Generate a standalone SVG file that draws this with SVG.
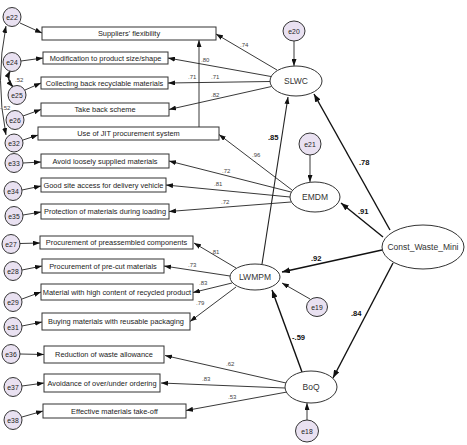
<svg xmlns="http://www.w3.org/2000/svg" width="467" height="445" viewBox="0 0 467 445">
<defs>
<marker id="ah" viewBox="0 0 7 5" refX="7" refY="2.5" markerWidth="7" markerHeight="5" markerUnits="userSpaceOnUse" orient="auto-start-reverse"><path d="M0,0 L7,2.5 L0,5 z" fill="#111"/></marker>
<marker id="ahb" viewBox="0 0 8 6" refX="8" refY="3" markerWidth="8" markerHeight="6" markerUnits="userSpaceOnUse" orient="auto-start-reverse"><path d="M0,0 L8,3 L0,6 z" fill="#111"/></marker>
</defs>
<style>
.box{fill:#fff;stroke:#333;stroke-width:1}
.bt{font-family:"Liberation Sans",Arial,sans-serif;font-size:7.4px;fill:#222;text-anchor:middle;dominant-baseline:central}
.err{fill:#e9e1f1;stroke:#333;stroke-width:1}
.et{font-family:"Liberation Sans",Arial,sans-serif;font-size:6.8px;fill:#222;text-anchor:middle;dominant-baseline:central}
.lat{fill:#fff;stroke:#333;stroke-width:1}
.lt{font-family:"Liberation Sans",Arial,sans-serif;font-size:8.5px;fill:#333;text-anchor:middle;dominant-baseline:central}
.c{fill:none;stroke:#222;stroke-width:0.9;marker-end:url(#ah)}
.cb{fill:none;stroke:#111;stroke-width:1.4;marker-end:url(#ahb)}
.cv{fill:none;stroke:#222;stroke-width:0.9;marker-start:url(#ah);marker-end:url(#ah)}
.w{font-family:"Liberation Sans",Arial,sans-serif;font-size:6px;fill:#444}
.wb{font-family:"Liberation Sans",Arial,sans-serif;font-size:7.6px;font-weight:bold;fill:#111}
</style>
<rect width="467" height="445" fill="#fff"/>

<g id="connectors">
<!-- error to indicator -->
<line class="c" x1="20" y1="23" x2="42" y2="33"/>
<line class="c" x1="21" y1="61" x2="43" y2="58"/>
<line class="c" x1="25" y1="90" x2="41" y2="83"/>
<line class="c" x1="23" y1="116" x2="41" y2="109.5"/>
<line class="c" x1="23" y1="140" x2="38" y2="135"/>
<line class="c" x1="23" y1="163" x2="41" y2="162"/>
<line class="c" x1="22" y1="190" x2="41" y2="186"/>
<line class="c" x1="23" y1="215" x2="41" y2="212"/>
<line class="c" x1="20" y1="243.5" x2="40" y2="243"/>
<line class="c" x1="22" y1="270" x2="42" y2="266"/>
<line class="c" x1="22" y1="299" x2="41" y2="292"/>
<line class="c" x1="22" y1="326" x2="42" y2="322"/>
<line class="c" x1="20" y1="354" x2="44" y2="354.5"/>
<line class="c" x1="22" y1="386" x2="44" y2="383"/>
<line class="c" x1="22" y1="417" x2="43" y2="411"/>
<!-- covariances -->
<path class="cv" d="M6,26 Q-5,80 6,135"/>
<path class="cv" d="M10,71 Q6,79 13,87" style="stroke-width:1.6"/>
<!-- SLWC to indicators -->
<line class="c" x1="277" y1="70" x2="216" y2="34"/>
<line class="c" x1="271" y1="76.5" x2="168" y2="58"/>
<line class="c" x1="270" y1="81.5" x2="168" y2="83"/>
<line class="c" x1="271.5" y1="86.5" x2="169" y2="109.5"/>
<!-- JIT to Suppliers -->
<line class="c" x1="199" y1="127" x2="199" y2="40"/>
<!-- EMDM to indicators -->
<line class="c" x1="292" y1="190" x2="219" y2="134.5"/>
<line class="c" x1="291" y1="192" x2="169" y2="161"/>
<line class="c" x1="290" y1="197" x2="166" y2="185"/>
<line class="c" x1="291" y1="202" x2="169" y2="211.5"/>
<!-- LWMPM to indicators -->
<line class="c" x1="236" y1="268" x2="194" y2="243"/>
<line class="c" x1="230" y1="276" x2="164" y2="266"/>
<line class="c" x1="232" y1="283" x2="193" y2="292.5"/>
<line class="c" x1="236" y1="287" x2="190" y2="321.5"/>
<!-- BoQ to indicators -->
<line class="c" x1="286" y1="383" x2="165" y2="355.5"/>
<line class="c" x1="285" y1="388" x2="161" y2="383"/>
<line class="c" x1="287" y1="392" x2="186" y2="410.5"/>
<!-- structural -->
<line class="cb" x1="390" y1="230" x2="314" y2="94"/>
<line class="cb" x1="383" y1="237" x2="341" y2="203"/>
<line class="cb" x1="382" y1="250" x2="282" y2="272"/>
<line class="cb" x1="393" y1="263" x2="333" y2="378"/>
<line class="c" x1="262" y1="264" x2="288" y2="97" style="stroke-width:1.1"/>
<line class="cb" x1="302" y1="372" x2="272" y2="290"/>
<!-- disturbances -->
<line class="c" x1="294" y1="41" x2="294" y2="66"/>
<line class="c" x1="310" y1="155" x2="310" y2="182"/>
<line class="c" x1="310" y1="299" x2="282" y2="283"/>
<line class="c" x1="307" y1="420" x2="307" y2="403"/>
<!-- weights -->
<text class="w" x="240" y="47">.74</text>
<text class="w" x="201" y="62">.80</text>
<text class="w" x="188" y="79">.71</text>
<text class="w" x="211" y="79">.71</text>
<text class="w" x="211" y="97">.82</text>
<text class="w" x="252" y="157">.96</text>
<text class="w" x="222" y="173">.72</text>
<text class="w" x="214" y="186">.81</text>
<text class="w" x="221" y="204">.72</text>
<text class="w" x="211" y="254">.81</text>
<text class="w" x="188" y="267">.73</text>
<text class="w" x="199" y="285">.83</text>
<text class="w" x="196" y="305">.79</text>
<text class="w" x="226" y="366">.62</text>
<text class="w" x="202" y="381">.83</text>
<text class="w" x="228" y="399">.53</text>
<text class="w" x="15" y="82">.52</text>
<text class="w" x="0" y="110">-.52</text>
<text class="wb" x="268" y="140">.85</text>
<text class="wb" x="359" y="165">.78</text>
<text class="wb" x="358" y="214">.91</text>
<text class="wb" x="311" y="261">.92</text>
<text class="wb" x="351" y="316">.84</text>
<text class="wb" x="292" y="340">-.59</text>
</g>

<g id="box_suppliers"><rect class="box" x="42" y="27" width="174" height="13"/><text class="bt" x="129" y="33.5">Suppliers' flexibility</text></g>
<g id="box_modification"><rect class="box" x="43" y="52" width="125" height="12"/><text class="bt" x="105.5" y="58">Modification to product size/shape</text></g>
<g id="box_collecting"><rect class="box" x="41" y="77" width="127" height="12"/><text class="bt" x="104.5" y="83">Collecting back recyclable materials</text></g>
<g id="box_takeback"><rect class="box" x="41" y="103" width="128" height="13"/><text class="bt" x="105" y="109.5">Take back scheme</text></g>
<g id="box_jit"><rect class="box" x="38" y="127" width="181" height="13"/><text class="bt" x="128.5" y="133.5">Use of JIT procurement system</text></g>
<g id="box_avoid"><rect class="box" x="41" y="154" width="128" height="14"/><text class="bt" x="105" y="161">Avoid loosely supplied materials</text></g>
<g id="box_goodsite"><rect class="box" x="41" y="178" width="125" height="14"/><text class="bt" x="103.5" y="185">Good site access for delivery vehicle</text></g>
<g id="box_protection"><rect class="box" x="41" y="204" width="128" height="15"/><text class="bt" x="105" y="211.5">Protection of materials during loading</text></g>
<g id="box_preassembled"><rect class="box" x="40" y="236" width="153" height="13"/><text class="bt" x="116.5" y="242.5">Procurement of preassembled components</text></g>
<g id="box_precut"><rect class="box" x="42" y="259" width="122" height="14"/><text class="bt" x="103" y="266">Procurement of pre-cut materials</text></g>
<g id="box_recycled"><rect class="box" x="41" y="284" width="152" height="16"/><text class="bt" x="117" y="292">Material with high content of recycled product</text></g>
<g id="box_buying"><rect class="box" x="42" y="313" width="148" height="17"/><text class="bt" x="116" y="321.5">Buying materials with reusable packaging</text></g>
<g id="box_reduction"><rect class="box" x="44" y="346" width="120" height="17"/><text class="bt" x="104" y="354.5">Reduction of waste allowance</text></g>
<g id="box_avoidance"><rect class="box" x="44" y="374" width="116" height="18"/><text class="bt" x="102" y="383">Avoidance of over/under ordering</text></g>
<g id="box_effective"><rect class="box" x="43" y="404" width="143" height="14"/><text class="bt" x="114.5" y="411">Effective materials take-off</text></g>

<g id="e22"><ellipse class="err" cx="12" cy="17" rx="9" ry="9.5"/><text class="et" x="12" y="17">e22</text></g>
<g id="e24"><ellipse class="err" cx="12" cy="62" rx="9" ry="9.5"/><text class="et" x="12" y="62">e24</text></g>
<g id="e25"><ellipse class="err" cx="17" cy="95" rx="9" ry="9.5"/><text class="et" x="17" y="95">e25</text></g>
<g id="e26"><ellipse class="err" cx="15" cy="120" rx="9" ry="9.5"/><text class="et" x="15" y="120">e26</text></g>
<g id="e32"><ellipse class="err" cx="14" cy="143" rx="9" ry="9"/><text class="et" x="14" y="143">e32</text></g>
<g id="e33"><ellipse class="err" cx="14" cy="163" rx="9" ry="9.5"/><text class="et" x="14" y="163">e33</text></g>
<g id="e34"><ellipse class="err" cx="13" cy="191" rx="9" ry="9.5"/><text class="et" x="13" y="191">e34</text></g>
<g id="e35"><ellipse class="err" cx="14" cy="216" rx="9" ry="9.5"/><text class="et" x="14" y="216">e35</text></g>
<g id="e27"><ellipse class="err" cx="11" cy="244" rx="9" ry="9.5"/><text class="et" x="11" y="244">e27</text></g>
<g id="e28"><ellipse class="err" cx="13" cy="271" rx="9" ry="9.5"/><text class="et" x="13" y="271">e28</text></g>
<g id="e29"><ellipse class="err" cx="13" cy="302" rx="9" ry="9.5"/><text class="et" x="13" y="302">e29</text></g>
<g id="e31"><ellipse class="err" cx="13" cy="327" rx="9" ry="9.5"/><text class="et" x="13" y="327">e31</text></g>
<g id="e36"><ellipse class="err" cx="11" cy="354" rx="9" ry="9.5"/><text class="et" x="11" y="354">e36</text></g>
<g id="e37"><ellipse class="err" cx="13" cy="387" rx="9" ry="9.5"/><text class="et" x="13" y="387">e37</text></g>
<g id="e38"><ellipse class="err" cx="13" cy="420" rx="9" ry="9.5"/><text class="et" x="13" y="420">e38</text></g>

<g id="e20"><ellipse class="err" cx="294" cy="31" rx="11" ry="10"/><text class="et" x="294" y="31">e20</text></g>
<g id="e21"><ellipse class="err" cx="310" cy="144" rx="11" ry="11"/><text class="et" x="310" y="144">e21</text></g>
<g id="e19"><ellipse class="err" cx="317" cy="307" rx="10.5" ry="9.5"/><text class="et" x="317" y="307">e19</text></g>
<g id="e18"><ellipse class="err" cx="307" cy="431" rx="11.5" ry="11"/><text class="et" x="307" y="431">e18</text></g>

<g id="SLWC"><ellipse class="lat" cx="296" cy="81" rx="26" ry="15"/><text class="lt" x="296" y="81">SLWC</text></g>
<g id="EMDM"><ellipse class="lat" cx="315" cy="197" rx="25" ry="15"/><text class="lt" x="315" y="197">EMDM</text></g>
<g id="LWMPM"><ellipse class="lat" cx="255" cy="277" rx="25" ry="13"/><text class="lt" x="255" y="277">LWMPM</text></g>
<g id="BoQ"><ellipse class="lat" cx="311" cy="387" rx="26" ry="16"/><text class="lt" x="311" y="387">BoQ</text></g>
<g id="Const_Waste_Mini"><ellipse class="lat" cx="423" cy="247" rx="41" ry="22"/><text class="lt" x="423" y="247">Const_Waste_Mini</text></g>
</svg>
